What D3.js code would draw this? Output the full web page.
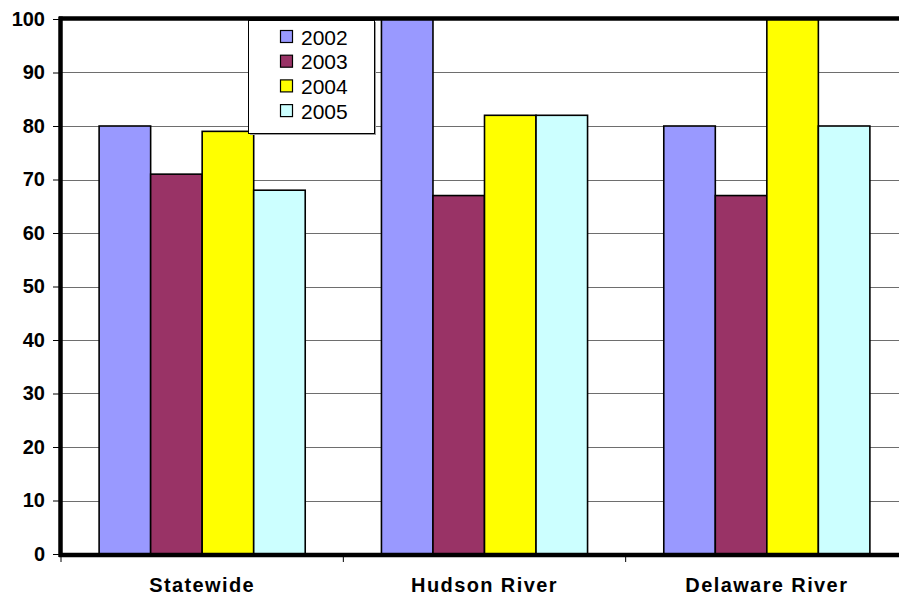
<!DOCTYPE html>
<html>
<head>
<meta charset="utf-8">
<script src="https://cdn.jsdelivr.net/npm/d3@7/dist/d3.min.js"></script>
<style>
  html, body { margin: 0; padding: 0; background: #fff; }
  svg { display: block; }
  text { font-family: Arial, "Liberation Sans", sans-serif; }
</style>
</head>
<body>
<svg id="chart" width="899" height="602"></svg>
<script>
// Regions and survey years
const categories = ["Statewide", "Hudson River", "Delaware River"];
const years = ["2002", "2003", "2004", "2005"];
// One array of values per year, ordered as the regions above
const values2002 = [80, 100, 80];
const values2003 = [71, 67, 67];
const values2004 = [79, 82, 100];
const values2005 = [68, 82, 80];
const yTicks = [0, 10, 20, 30, 40, 50, 60, 70, 80, 90, 100];
const colors = ["#9999FF", "#993366", "#FFFF00", "#CCFFFF"];

const seriesValues = [values2002, values2003, values2004, values2005];

const svg = d3.select("#chart");
const W = 899;

const plotLeft = 61, plotRight = 908, plotTop = 19, plotBottom = 554;

const x = d3.scaleBand().domain(categories).range([plotLeft, plotRight]).paddingInner(0.27).paddingOuter(0.135);
const x1 = d3.scaleBand().domain(years).range([0, x.bandwidth()]);
const y = d3.scaleLinear().domain([0, 100]).range([plotBottom, plotTop]);

// Horizontal gridlines
svg.append("g")
  .selectAll("line")
  .data(yTicks.filter(t => t > 0 && t < 100))
  .join("line")
  .attr("x1", plotLeft).attr("x2", W)
  .attr("y1", d => Math.round(y(d)) + 0.5).attr("y2", d => Math.round(y(d)) + 0.5)
  .attr("stroke", "#6e6e6e").attr("stroke-width", 1);

// Bars
const groups = svg.append("g")
  .selectAll("g")
  .data(categories)
  .join("g")
  .attr("transform", d => `translate(${x(d)},0)`);

groups.selectAll("rect")
  .data((c, i) => years.map((yr, k) => ({ yr, k, v: seriesValues[k][i] })))
  .join("rect")
  .attr("x", d => x1(d.yr))
  .attr("width", x1.bandwidth())
  .attr("y", d => y(d.v))
  .attr("height", d => plotBottom - y(d.v))
  .attr("fill", d => colors[d.k])
  .attr("stroke", "#000").attr("stroke-width", 1.6);

// Plot frame: heavy left, top and bottom edges
svg.append("line").attr("x1", plotLeft - 2).attr("x2", W).attr("y1", plotTop - 0.5).attr("y2", plotTop - 0.5)
  .attr("stroke", "#000").attr("stroke-width", 4.5);
svg.append("line").attr("x1", plotLeft - 2).attr("x2", W).attr("y1", plotBottom + 1).attr("y2", plotBottom + 1)
  .attr("stroke", "#000").attr("stroke-width", 4.5);
svg.append("line").attr("x1", plotLeft - 0.5).attr("x2", plotLeft - 0.5).attr("y1", plotTop - 2.5).attr("y2", plotBottom + 3)
  .attr("stroke", "#000").attr("stroke-width", 4.5);

// Y axis ticks and labels
const yAxis = d3.axisLeft(y).tickValues(yTicks).tickSize(6).tickPadding(8).tickFormat(d3.format("d"));
const gy = svg.append("g").attr("transform", `translate(${plotLeft - 2},0)`).call(yAxis);
gy.select(".domain").remove();
gy.selectAll(".tick line").attr("stroke", "#000");
gy.selectAll(".tick text")
  .attr("font-size", 20).attr("font-weight", "bold").attr("fill", "#000")
  .attr("font-family", "Arial, 'Liberation Sans', sans-serif");

// X axis: boundary ticks and category labels
const bounds = [plotLeft, ...categories.slice(1).map(c => x(c) - x.step() * x.paddingInner() / 2)];
svg.append("g").selectAll("line").data(bounds).join("line")
  .attr("x1", d => d).attr("x2", d => d)
  .attr("y1", plotBottom + 3).attr("y2", plotBottom + 8)
  .attr("stroke", "#000").attr("stroke-width", 1);

svg.append("g").selectAll("text").data(categories).join("text")
  .attr("x", d => x(d) + x.bandwidth() / 2)
  .attr("y", 592)
  .attr("text-anchor", "middle")
  .attr("font-size", 20).attr("font-weight", "bold")
  .attr("letter-spacing", 1.4)
  .text(d => d);

// Legend
const lg = svg.append("g");
const lx = 248, ly = 20, lw = 126, lh = 113;
lg.append("rect").attr("x", lx + 2).attr("y", ly + 2).attr("width", lw).attr("height", lh).attr("fill", "#9a9a9a");
lg.append("rect").attr("x", lx + 0.5).attr("y", ly + 0.5).attr("width", lw).attr("height", lh)
  .attr("fill", "#fff").attr("stroke", "#000").attr("stroke-width", 1);
const rows = lg.selectAll("g.row").data(years).join("g").attr("class", "row")
  .attr("transform", (d, i) => `translate(${lx},${ly + 17 + i * 24.7})`);
rows.append("rect").attr("x", 32.5).attr("y", -6.5).attr("width", 12).attr("height", 12)
  .attr("fill", (d, i) => colors[i]).attr("stroke", "#000").attr("stroke-width", 1.2);
rows.append("text").attr("x", 53).attr("y", 7.5).attr("font-size", 21).text(d => d);
</script>
</body>
</html>
